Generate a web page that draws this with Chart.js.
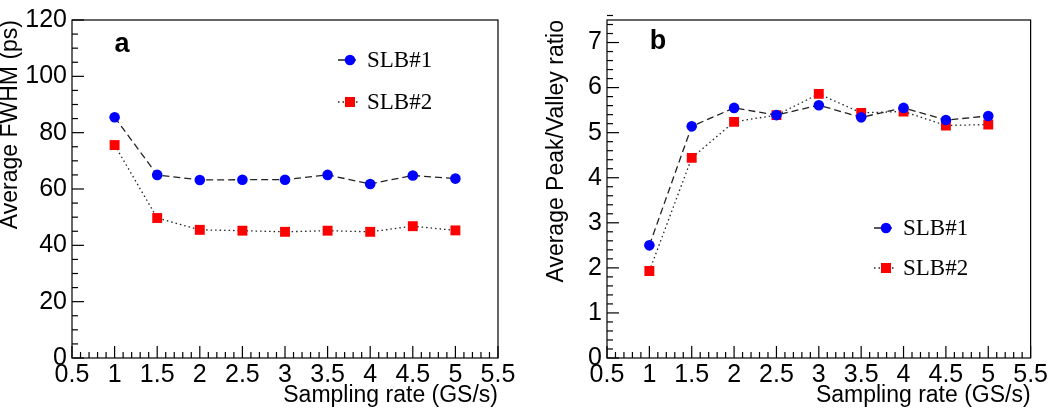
<!DOCTYPE html>
<html>
<head>
<meta charset="utf-8">
<script src="https://cdn.jsdelivr.net/npm/chart.js@4"></script>
<style>
  body { margin: 0; background: #fff; }
  .panel { position: absolute; top: 0; width: 525px; height: 410px; }
</style>
</head>
<body>
<div class="panel" style="left:0"><canvas id="fwhm" width="525" height="410"></canvas></div>
<div class="panel" style="left:525px"><canvas id="pv" width="525" height="410"></canvas></div>
<script>
// Sampling rates (GS/s) and measured values for each board
const rates = [1, 1.5, 2, 2.5, 3, 3.5, 4, 4.5, 5];
const seriesNames = ['SLB#1', 'SLB#2'];
const fwhm1 = [85.5, 65, 63.2, 63.3, 63.3, 65, 61.8, 64.8, 63.7];
const fwhm2 = [75.6, 49.7, 45.5, 45.2, 44.8, 45.2, 44.8, 46.8, 45.3];
const pv1 = [2.5, 5.14, 5.55, 5.39, 5.61, 5.34, 5.55, 5.28, 5.37];
const pv2 = [1.93, 4.44, 5.24, 5.39, 5.86, 5.44, 5.47, 5.16, 5.18];

const sans = '"Liberation Sans", Arial, sans-serif';
const serif = '"Liberation Serif", "Times New Roman", serif';

// Frame, inside ticks (ROOT style), panel letter and legend
const rootStyle = {
  id: 'rootStyle',
  afterDatasetsDraw(chart, args, opts) {
    const { ctx, chartArea: a, scales: { x, y } } = chart;
    ctx.save();
    ctx.strokeStyle = '#000';
    ctx.lineWidth = 1.2;
    ctx.strokeRect(a.left, a.top, a.right - a.left, a.bottom - a.top);

    // x ticks
    for (let i = 0; i <= 50; i++) {
      const v = 0.5 + i * 0.1;
      const px = x.getPixelForValue(v);
      const len = i % 5 === 0 ? 12 : 6;
      ctx.beginPath();
      ctx.moveTo(px, a.bottom);
      ctx.lineTo(px, a.bottom - len);
      ctx.stroke();
    }
    // y ticks
    const n = Math.round((y.max - y.min) / opts.yMinor);
    for (let i = 0; i <= n; i++) {
      const v = y.min + i * opts.yMinor;
      const py = y.getPixelForValue(v);
      const len = i % opts.perMajor === 0 ? 12 : 6;
      ctx.beginPath();
      ctx.moveTo(a.left, py);
      ctx.lineTo(a.left + len, py);
      ctx.stroke();
    }

    // panel letter
    ctx.fillStyle = '#000';
    ctx.font = 'bold 27px ' + sans;
    ctx.textAlign = 'center';
    ctx.textBaseline = 'middle';
    ctx.fillText(opts.letter, opts.letterX, opts.letterY);

    // legend
    chart.data.datasets.forEach((ds, i) => {
      const ly = opts.legendY[i];
      ctx.strokeStyle = ds.borderColor;
      ctx.lineWidth = ds.borderWidth;
      ctx.setLineDash(ds.borderDash);
      ctx.beginPath();
      ctx.moveTo(opts.legendX - 12, ly);
      ctx.lineTo(opts.legendX + 8, ly);
      ctx.stroke();
      ctx.setLineDash([]);
      ctx.fillStyle = ds.pointBackgroundColor;
      if (ds.pointStyle === 'circle') {
        ctx.beginPath();
        ctx.arc(opts.legendX, ly, ds.pointRadius, 0, Math.PI * 2);
        ctx.fill();
      } else {
        ctx.fillRect(opts.legendX - 5, ly - 5, 10, 10);
      }
      ctx.fillStyle = '#000';
      ctx.font = '23px ' + serif;
      ctx.textAlign = 'left';
      ctx.fillText(ds.label, opts.legendX + 17, ly + 1);
    });
    ctx.restore();
  }
};

function makeDatasets(a, b) {
  return [
    {
      label: seriesNames[0],
      data: rates.map((r, i) => ({ x: r, y: a[i] })),
      borderColor: '#222', borderWidth: 1.3, borderDash: [7, 4],
      pointStyle: 'circle', pointRadius: 5.3,
      pointBackgroundColor: '#0000ff', pointBorderWidth: 0
    },
    {
      label: seriesNames[1],
      data: rates.map((r, i) => ({ x: r, y: b[i] })),
      borderColor: '#222', borderWidth: 1.3, borderDash: [1.5, 3],
      pointStyle: 'rect', pointRadius: 7,
      pointBackgroundColor: '#ff0000', pointBorderWidth: 0
    }
  ];
}

function makeChart(id, a, b, yTitle, yMax, yStep, yWidth, titlePad, padRight, plug) {
  return new Chart(document.getElementById(id), {
    type: 'line',
    data: { datasets: makeDatasets(a, b) },
    plugins: [rootStyle],
    options: {
      responsive: false,
      animation: false,
      layout: { padding: { top: 10, right: padRight, bottom: 0, left: 0 } },
      plugins: { legend: { display: false }, tooltip: { enabled: false }, rootStyle: plug },
      scales: {
        x: {
          type: 'linear', min: 0.5, max: 5.5,
          grid: { display: false, drawTicks: false },
          border: { display: false },
          ticks: {
            stepSize: 0.5, padding: 2, color: '#000', maxRotation: 0, autoSkip: false,
            font: { family: sans, size: 25 },
            callback: v => String(+v.toFixed(2))
          },
          title: {
            display: true, text: 'Sampling rate (GS/s)', align: 'end', color: '#000',
            font: { family: sans, size: 23 }, padding: { top: 0, bottom: 1 }
          },
          afterFit: s => { s.height = 52; }
        },
        y: {
          min: 0, max: yMax,
          grid: { display: false, drawTicks: false },
          border: { display: false },
          ticks: {
            stepSize: yStep, padding: 5, color: '#000', includeBounds: false,
            font: { family: sans, size: 25 },
            callback: v => (Math.abs(v / yStep - Math.round(v / yStep)) < 1e-6 ? String(+v.toFixed(2)) : '')
          },
          title: {
            display: true, text: yTitle, align: 'end', color: '#000',
            font: { family: sans, size: 23 }, padding: { top: titlePad, bottom: 0 }
          },
          afterFit: s => { s.width = yWidth; }
        }
      }
    }
  });
}

makeChart('fwhm', fwhm1, fwhm2, 'Average FWHM (ps)', 120, 20, 72, -3, 27,
  { yMinor: 5, perMajor: 4, letter: 'a', letterX: 122, letterY: 45, legendX: 350, legendY: [60, 102] });
makeChart('pv', pv1, pv2, 'Average Peak/Valley ratio', 7.5, 1, 82, 18, 17,
  { yMinor: 0.2, perMajor: 5, letter: 'b', letterX: 133, letterY: 42, legendX: 361, legendY: [228, 268] });
</script>
</body>
</html>
